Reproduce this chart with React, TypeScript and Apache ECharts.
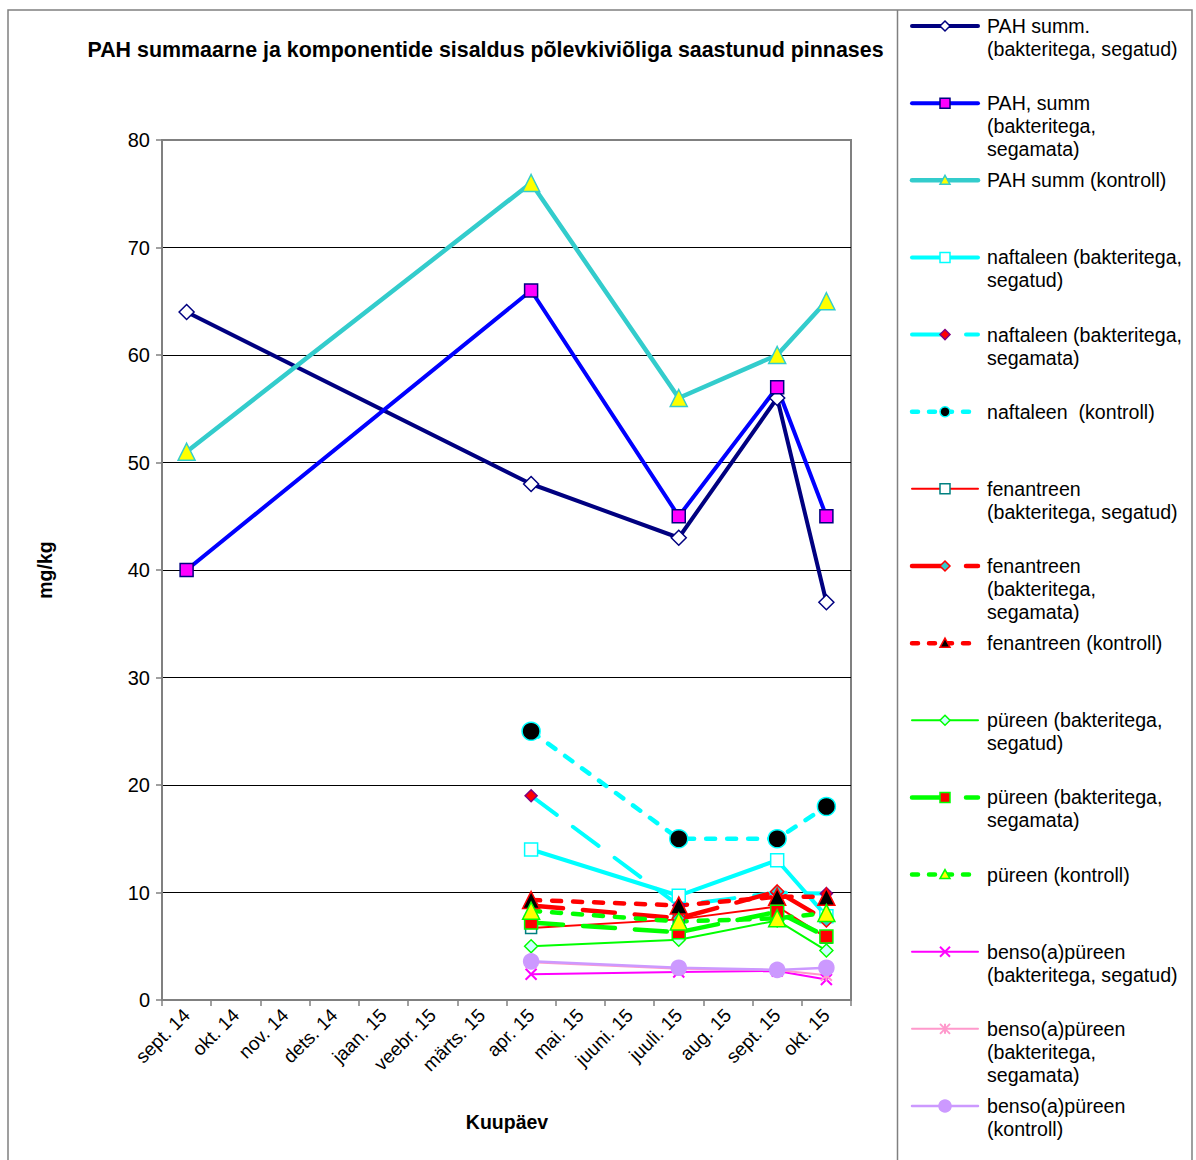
import React, { useEffect, useRef } from "react";
import * as echarts from "echarts";

const CATEGORIES = [
  "sept. 14", "okt. 14", "nov. 14", "dets. 14", "jaan. 15", "veebr. 15", "märts. 15",
  "apr. 15", "mai. 15", "juuni. 15", "juuli. 15", "aug. 15", "sept. 15", "okt. 15",
];
const n = null;

const PAH_SEGATUD = [64, n, n, n, n, n, n, 48, n, n, 43, n, 56, 37];
const PAH_SEGAMATA = [40, n, n, n, n, n, n, 66, n, n, 45, n, 57, 45];
const PAH_KONTROLL = [51, n, n, n, n, n, n, 76, n, n, 56, n, 60, 65];
const NAFT_SEGATUD = [n, n, n, n, n, n, n, 14, n, n, 9.7, n, 13, 7.8];
const NAFT_SEGAMATA = [n, n, n, n, n, n, n, 19, n, n, 8.8, n, 10, 9.9];
const NAFT_KONTROLL = [n, n, n, n, n, n, n, 25, n, n, 15, n, 15, 18];
const FEN_SEGATUD = [n, n, n, n, n, n, n, 6.7, n, n, 7.5, n, 8.7, 5.8];
const FEN_SEGAMATA = [n, n, n, n, n, n, n, 8.8, n, n, 7.6, n, 10.1, 7.4];
const FEN_KONTROLL = [n, n, n, n, n, n, n, 9.3, n, n, 8.8, n, 9.6, 9.6];
const PYR_SEGATUD = [n, n, n, n, n, n, n, 5.0, n, n, 5.6, n, 7.4, 4.6];
const PYR_SEGAMATA = [n, n, n, n, n, n, n, 7.2, n, n, 6.3, n, 8.2, 5.9];
const PYR_KONTROLL = [n, n, n, n, n, n, n, 8.3, n, n, 7.3, n, 7.6, 8.1];
const BAP_SEGATUD = [n, n, n, n, n, n, n, 2.4, n, n, 2.6, n, 2.7, 1.9];
const BAP_SEGAMATA = [n, n, n, n, n, n, n, 3.5, n, n, 2.9, n, 2.8, 2.3];
const BAP_KONTROLL = [n, n, n, n, n, n, n, 3.6, n, n, 3.0, n, 2.8, 3.0];

const Y_MIN = 0;
const Y_MAX = 80;
const Y_STEP = 10;

const TITLE = "PAH summaarne ja komponentide sisaldus põlevkiviõliga saastunud pinnases";
const X_NAME = "Kuupäev";
const Y_NAME = "mg/kg";

const FONT = "'Liberation Sans', Arial, Helvetica, sans-serif";

type Sym = "diamond" | "rect" | "triangle" | "circle" | "x" | "asterisk";
type DashKind = "solid" | "long" | "short";

interface SeriesDef {
  name: string;
  legend: string;
  data: (number | null)[];
  color: string;
  width: number;
  legendWidth: number;
  dash: DashKind;
  symbol: Sym;
  fill: string;
  border: string;
  size: number;
  legendSize: number;
}

const SERIES: SeriesDef[] = [
  { name: "PAH summ. (bakteritega, segatud)", legend: "PAH summ.\n(bakteritega, segatud)", data: PAH_SEGATUD, color: "#000080", width: 4, legendWidth: 4, dash: "solid", symbol: "diamond", fill: "#ffffff", border: "#000080", size: 15, legendSize: 10 },
  { name: "PAH, summ (bakteritega, segamata)", legend: "PAH, summ\n(bakteritega,\nsegamata)", data: PAH_SEGAMATA, color: "#0000ff", width: 4, legendWidth: 4, dash: "solid", symbol: "rect", fill: "#ff00ff", border: "#000080", size: 13, legendSize: 10 },
  { name: "PAH summ (kontroll)", legend: "PAH summ (kontroll)", data: PAH_KONTROLL, color: "#33cccc", width: 4.5, legendWidth: 4.5, dash: "solid", symbol: "triangle", fill: "#ffff00", border: "#33cccc", size: 17, legendSize: 10 },
  { name: "naftaleen (bakteritega, segatud)", legend: "naftaleen (bakteritega,\nsegatud)", data: NAFT_SEGATUD, color: "#00ffff", width: 4, legendWidth: 4, dash: "solid", symbol: "rect", fill: "#ffffff", border: "#00ffff", size: 13, legendSize: 10 },
  { name: "naftaleen (bakteritega, segamata)", legend: "naftaleen (bakteritega,\nsegamata)", data: NAFT_SEGAMATA, color: "#00ffff", width: 4, legendWidth: 4, dash: "long", symbol: "diamond", fill: "#ff0000", border: "#800080", size: 12, legendSize: 10 },
  { name: "naftaleen  (kontroll)", legend: "naftaleen  (kontroll)", data: NAFT_KONTROLL, color: "#00ffff", width: 4.5, legendWidth: 4.5, dash: "short", symbol: "circle", fill: "#000000", border: "#00ffff", size: 18, legendSize: 10 },
  { name: "fenantreen (bakteritega, segatud)", legend: "fenantreen\n(bakteritega, segatud)", data: FEN_SEGATUD, color: "#ff0000", width: 2, legendWidth: 2, dash: "solid", symbol: "rect", fill: "#ffffff", border: "#008080", size: 11, legendSize: 10 },
  { name: "fenantreen (bakteritega, segamata)", legend: "fenantreen\n(bakteritega,\nsegamata)", data: FEN_SEGAMATA, color: "#ff0000", width: 4.5, legendWidth: 4.5, dash: "long", symbol: "diamond", fill: "#33cccc", border: "#ff0000", size: 13, legendSize: 10 },
  { name: "fenantreen (kontroll)", legend: "fenantreen (kontroll)", data: FEN_KONTROLL, color: "#ff0000", width: 4.5, legendWidth: 4.5, dash: "short", symbol: "triangle", fill: "#000000", border: "#ff0000", size: 17, legendSize: 10 },
  { name: "püreen (bakteritega, segatud)", legend: "püreen (bakteritega,\nsegatud)", data: PYR_SEGATUD, color: "#00ff00", width: 2, legendWidth: 2, dash: "solid", symbol: "diamond", fill: "#ccffff", border: "#00ff00", size: 13, legendSize: 10 },
  { name: "püreen (bakteritega, segamata)", legend: "püreen (bakteritega,\nsegamata)", data: PYR_SEGAMATA, color: "#00ff00", width: 4.5, legendWidth: 4.5, dash: "long", symbol: "rect", fill: "#ff0000", border: "#00ff00", size: 13, legendSize: 10 },
  { name: "püreen (kontroll)", legend: "püreen (kontroll)", data: PYR_KONTROLL, color: "#00ff00", width: 4.5, legendWidth: 4.5, dash: "short", symbol: "triangle", fill: "#ffff00", border: "#00ff00", size: 17, legendSize: 10 },
  { name: "benso(a)püreen (bakteritega, segatud)", legend: "benso(a)püreen\n(bakteritega, segatud)", data: BAP_SEGATUD, color: "#ff00ff", width: 2, legendWidth: 2, dash: "solid", symbol: "x", fill: "#ff00ff", border: "#ff00ff", size: 11, legendSize: 10 },
  { name: "benso(a)püreen (bakteritega, segamata)", legend: "benso(a)püreen\n(bakteritega,\nsegamata)", data: BAP_SEGAMATA, color: "#ff99cc", width: 2, legendWidth: 2, dash: "solid", symbol: "asterisk", fill: "#ff99cc", border: "#ff99cc", size: 11, legendSize: 10 },
  { name: "benso(a)püreen (kontroll)", legend: "benso(a)püreen\n(kontroll)", data: BAP_KONTROLL, color: "#cc99ff", width: 2.5, legendWidth: 2.5, dash: "solid", symbol: "circle", fill: "#cc99ff", border: "#cc99ff", size: 15, legendSize: 12 },
];

const X_PATH = "path://M0,0L10,10M10,0L0,10";
const AST_PATH = "path://M0,0L10,10M10,0L0,10M5,0L5,10";

function echartsSymbol(s: Sym): string {
  if (s === "x") return X_PATH;
  if (s === "asterisk") return AST_PATH;
  return s;
}

function chartDash(d: DashKind): any {
  if (d === "long") return [32, 20];
  if (d === "short") return [9, 12];
  return "solid";
}

function legendDash(d: DashKind): number[] | null {
  if (d === "long") return [34, 20];
  if (d === "short") return [6, 11];
  return null;
}

function markerShapes(sym: Sym, cx: number, cy: number, size: number, fill: string, border: string): any[] {
  const r = size / 2;
  const st = { fill, stroke: border, lineWidth: 1.5 };
  switch (sym) {
    case "diamond":
      return [{ type: "polygon", shape: { points: [[cx, cy - r], [cx + r, cy], [cx, cy + r], [cx - r, cy]] }, style: st }];
    case "rect":
      return [{ type: "rect", shape: { x: cx - r, y: cy - r, width: size, height: size }, style: st }];
    case "triangle":
      return [{ type: "polygon", shape: { points: [[cx, cy - r], [cx + r, cy + r * 0.8], [cx - r, cy + r * 0.8]] }, style: st }];
    case "circle":
      return [{ type: "circle", shape: { cx, cy, r }, style: st }];
    case "x":
      return [
        { type: "line", shape: { x1: cx - r, y1: cy - r, x2: cx + r, y2: cy + r }, style: { stroke: border, lineWidth: 2 } },
        { type: "line", shape: { x1: cx + r, y1: cy - r, x2: cx - r, y2: cy + r }, style: { stroke: border, lineWidth: 2 } },
      ];
    case "asterisk":
      return [
        { type: "line", shape: { x1: cx - r, y1: cy - r, x2: cx + r, y2: cy + r }, style: { stroke: border, lineWidth: 2 } },
        { type: "line", shape: { x1: cx + r, y1: cy - r, x2: cx - r, y2: cy + r }, style: { stroke: border, lineWidth: 2 } },
        { type: "line", shape: { x1: cx, y1: cy - r, x2: cx, y2: cy + r }, style: { stroke: border, lineWidth: 2 } },
      ];
  }
  return [];
}

function buildLegend(): any[] {
  const out: any[] = [];
  const firstY = 26;
  const pitch = (1106 - 26) / 14;
  SERIES.forEach((s, i) => {
    const cy = firstY + i * pitch;
    out.push({
      type: "line",
      shape: { x1: 912, y1: cy, x2: 978, y2: cy },
      style: { stroke: s.color, lineWidth: s.legendWidth, lineDash: legendDash(s.dash), lineCap: "round" },
    });
    markerShapes(s.symbol, 945, cy, s.legendSize, s.fill, s.border).forEach((m) => out.push(m));
    out.push({
      type: "text",
      x: 987,
      y: cy - 11.5,
      style: {
        text: s.legend,
        fontFamily: FONT,
        fontSize: 19.6,
        lineHeight: 23,
        fill: "#000",
        align: "left",
        verticalAlign: "top",
      },
    });
  });
  return out;
}

function buildOption(): any {
  return {
    animation: false,
    backgroundColor: "#ffffff",
    textStyle: { fontFamily: FONT },
    grid: {
      left: 162,
      right: 345,
      top: 140,
      bottom: 160,
      show: true,
      borderColor: "#808080",
      borderWidth: 2,
      backgroundColor: "transparent",
    },
    xAxis: {
      type: "category",
      data: CATEGORIES,
      boundaryGap: true,
      axisLine: { show: true, lineStyle: { color: "#808080", width: 2 } },
      axisTick: { show: true, inside: false, length: 6, alignWithLabel: false, interval: 0, lineStyle: { color: "#808080", width: 1.5 } },
      axisLabel: { interval: 0, rotate: 45, fontSize: 19, color: "#000", margin: 12, fontFamily: FONT },
      splitLine: { show: false },
    },
    yAxis: {
      type: "value",
      min: Y_MIN,
      max: Y_MAX,
      interval: Y_STEP,
      axisLine: { show: true, lineStyle: { color: "#808080", width: 2 } },
      axisTick: { show: true, inside: false, length: 6, lineStyle: { color: "#808080", width: 1.5 } },
      axisLabel: { fontSize: 20, color: "#000", margin: 12, fontFamily: FONT },
      splitLine: { show: true, showMinLine: false, showMaxLine: false, lineStyle: { color: "#000000", width: 1 } },
    },
    series: SERIES.map((s) => ({
      type: "line",
      name: s.name,
      data: s.data,
      connectNulls: true,
      symbol: echartsSymbol(s.symbol),
      symbolSize: s.size,
      showAllSymbol: true,
      lineStyle: { color: s.color, width: s.width, type: chartDash(s.dash), cap: "round" },
      itemStyle: {
        color: s.fill,
        borderColor: s.border,
        borderWidth: s.symbol === "x" || s.symbol === "asterisk" ? 2 : 1.5,
      },
      emphasis: { disabled: true },
      silent: true,
    })),
    graphic: [
      {
        type: "rect",
        shape: { x: 8, y: 10, width: 1184, height: 1170 },
        style: { fill: "none", stroke: "#808080", lineWidth: 1.5 },
        silent: true,
      },
      {
        type: "line",
        shape: { x1: 897.5, y1: 10, x2: 897.5, y2: 1160 },
        style: { stroke: "#808080", lineWidth: 1.5 },
        silent: true,
      },
      {
        type: "text",
        x: 485.5,
        y: 50,
        style: {
          text: TITLE,
          fontFamily: FONT,
          fontSize: 21.4,
          fontWeight: "bold",
          fill: "#000",
          align: "center",
          verticalAlign: "middle",
        },
      },
      {
        type: "text",
        x: 507,
        y: 1122,
        style: {
          text: X_NAME,
          fontFamily: FONT,
          fontSize: 19.5,
          fontWeight: "bold",
          fill: "#000",
          align: "center",
          verticalAlign: "middle",
        },
      },
      {
        type: "text",
        x: 45,
        y: 570,
        rotation: Math.PI / 2,
        style: {
          text: Y_NAME,
          fontFamily: FONT,
          fontSize: 19.5,
          fontWeight: "bold",
          fill: "#000",
          align: "center",
          verticalAlign: "middle",
        },
      },
      ...buildLegend(),
    ],
  };
}

export default function App() {
  const ref = useRef<HTMLDivElement>(null);
  useEffect(() => {
    if (!ref.current) return;
    const chart = echarts.init(ref.current, undefined, { renderer: "svg" });
    chart.setOption(buildOption());
    return () => {
      chart.dispose();
    };
  }, []);
  return (
    <div
      ref={ref}
      style={{ position: "absolute", left: 0, top: 0, width: 1196, height: 1160, background: "#ffffff" }}
    />
  );
}
